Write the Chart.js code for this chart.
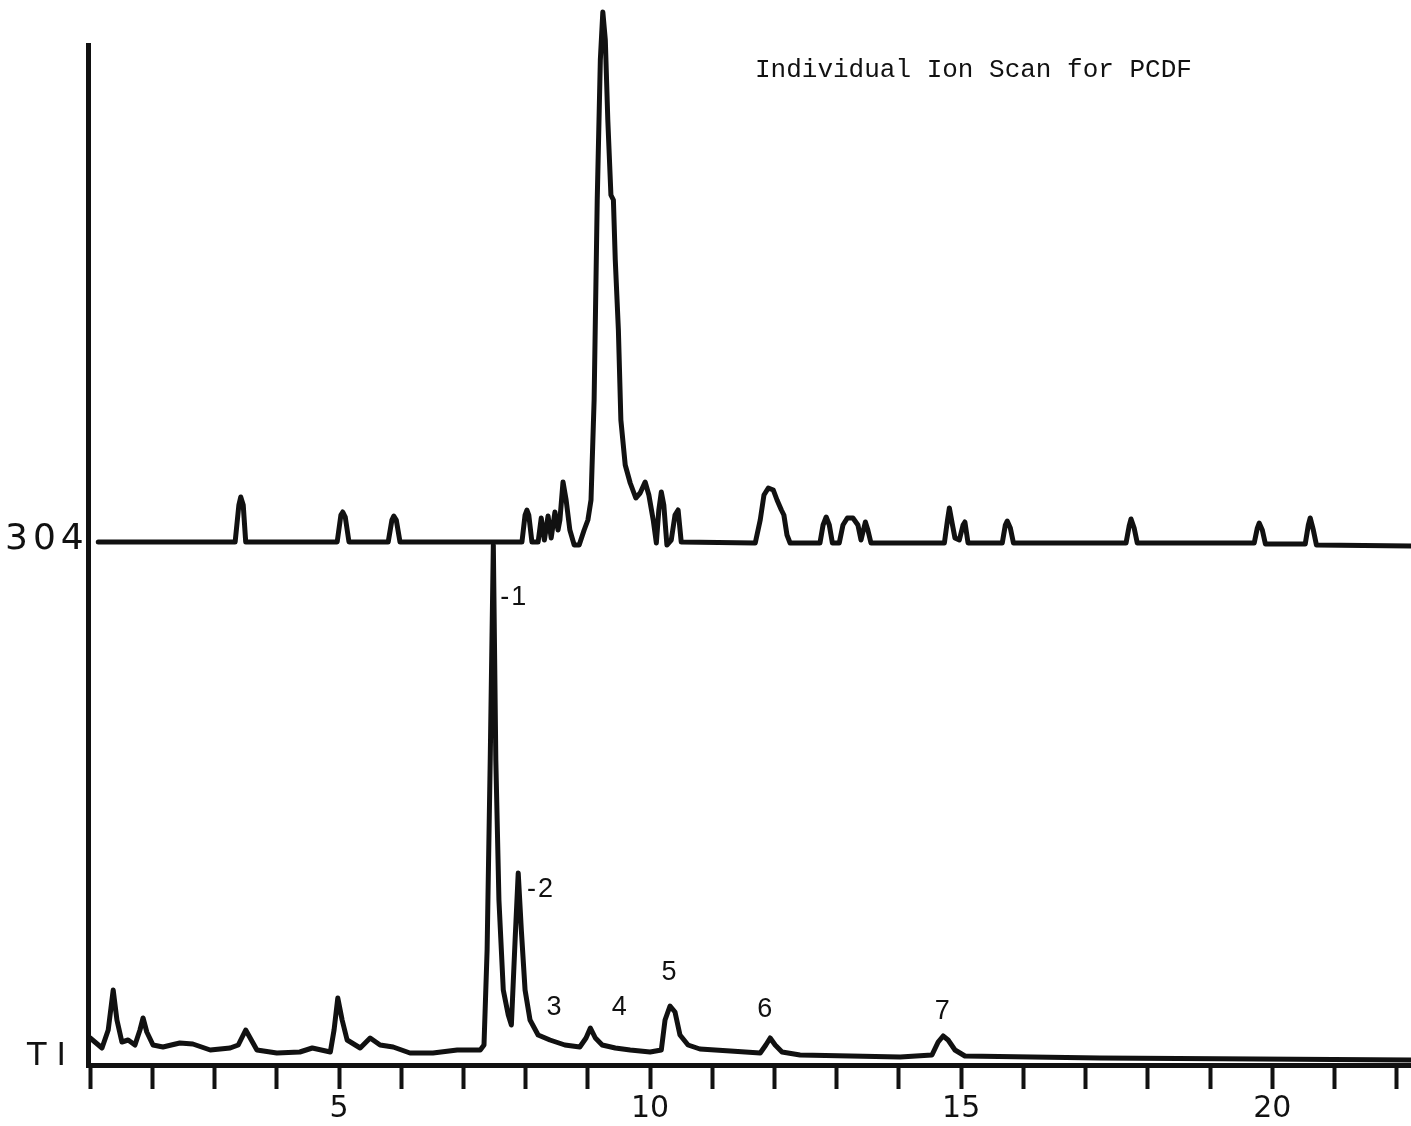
<!DOCTYPE html>
<html lang="en">
<head>
  <meta charset="UTF-8" />
  <title>Individual Ion Scan for PCDF</title>
  <script src="https://cdn.jsdelivr.net/npm/chart.js@4.4.1/dist/chart.umd.min.js"></script>
  <style>
    body { margin: 0; background: #fff; }
    #wrap { width: 1411px; height: 1126px; position: relative; }
  </style>
</head>
<body>
  <div id="wrap"><canvas id="chrom"></canvas></div>

  <script>
    // retention time (min) and signal (chart units above the time axis)
    const ion304Time = [
      1.13, 3.28, 3.33, 3.39, 3.42, 3.46, 3.50,
      4.97, 5.03, 5.06, 5.10, 5.16,
      5.79, 5.85, 5.88, 5.92, 5.98,
      7.94, 7.99, 8.02, 8.05, 8.10,
      8.20, 8.25, 8.30, 8.36, 8.41, 8.47, 8.52,
      8.55, 8.60, 8.65, 8.71, 8.78, 8.86, 8.94, 9.00, 9.05, 9.10, 9.15, 9.20, 9.24,
      9.28, 9.32, 9.37, 9.41, 9.44, 9.49, 9.53, 9.60, 9.68, 9.77, 9.84, 9.92, 9.98,
      10.05, 10.10, 10.14, 10.18, 10.22, 10.27, 10.34, 10.40, 10.45, 10.50,
      11.69, 11.77, 11.83, 11.90, 11.98, 12.04, 12.11, 12.15, 12.20, 12.25,
      12.73, 12.78, 12.83, 12.88, 12.93,
      13.04, 13.10, 13.17, 13.26, 13.34, 13.39, 13.46, 13.50, 13.55,
      14.73, 14.78, 14.81, 14.86, 14.90, 14.97, 15.03, 15.06, 15.11,
      15.66, 15.71, 15.74, 15.79, 15.84,
      17.65, 17.70, 17.73, 17.78, 17.83,
      19.71, 19.76, 19.79, 19.84, 19.89,
      20.53, 20.58, 20.61, 20.66, 20.71,
      22.23
    ];
    const ion304Signal = [
      523, 523, 523, 560, 568, 560, 523,
      523, 550, 553, 548, 523,
      523, 545, 549, 545, 523,
      523, 550, 555, 550, 523,
      523, 547, 525, 549, 527, 553, 535,
      545, 583, 565, 535, 520, 520, 535, 545, 565, 665, 865, 1005, 1053,
      1025, 945, 870, 865, 805, 735, 645, 600, 582, 567, 572, 583, 570,
      545, 522, 555, 573, 560, 520, 525, 550, 555, 523,
      522, 545, 570, 577, 575, 565, 555, 550, 530, 522,
      522, 540, 548, 540, 522,
      522, 540, 547, 547, 540, 525, 543, 535, 522,
      522, 545, 557, 540, 527, 525, 540, 543, 522,
      522, 540, 544, 537, 522,
      522, 539, 546, 537, 522,
      522, 537, 542, 535, 521,
      521, 540, 547, 535, 520,
      519
    ];

    const totalIonTime = [
      1.00, 1.19, 1.29, 1.37, 1.43, 1.51, 1.61, 1.72, 1.80, 1.85, 1.91, 2.01, 2.17,
      2.44, 2.65, 2.93, 3.25, 3.38, 3.50, 3.59, 3.68, 4.00, 4.37, 4.57, 4.86,
      4.92, 4.98, 5.05, 5.13, 5.34, 5.50, 5.66, 5.87, 6.14, 6.51, 6.90, 7.27,
      7.33, 7.38, 7.43, 7.48, 7.52, 7.57, 7.64, 7.72, 7.77, 7.83, 7.88, 7.93, 7.99,
      8.07, 8.20, 8.39, 8.63, 8.87, 8.97, 9.04, 9.12, 9.23, 9.44, 9.68, 10.00,
      10.18, 10.24, 10.32, 10.40, 10.48, 10.61, 10.80, 11.29, 11.77, 11.86, 11.93,
      12.01, 12.12, 12.41, 13.22, 14.02, 14.53, 14.63, 14.71, 14.79, 14.90, 15.06,
      17.23, 22.23
    ];
    const totalIonSignal = [
      27, 17, 35, 75, 45, 23, 25, 20, 35, 47, 33, 20, 18,
      22, 21, 15, 17, 20, 35, 25, 15, 12, 13, 17, 13,
      35, 67, 45, 25, 17, 27, 20, 18, 12, 12, 15, 15,
      20, 115, 305, 520, 305, 165, 75, 50, 40, 125, 192, 135, 75,
      45, 30, 25, 20, 18, 27, 37, 27, 20, 17, 15, 13,
      15, 45, 59, 53, 30, 20, 16, 14, 12, 20, 27,
      20, 13, 10, 9, 8, 10, 23, 29, 25, 15, 9,
      7, 5
    ];

    const tickMinutes = [1, 2, 3, 4, 5, 6, 7, 8, 9, 10, 11, 12, 13, 14, 15, 16, 17, 18, 19, 20, 21, 22];
    const labelledMinutes = [5, 10, 15, 20];

    const peakNotes = [
      { text: '-1', x: 7.59, y: 467, align: 'left' },
      { text: '-2', x: 8.02, y: 175, align: 'left' },
      { text: '3', x: 8.47, y: 57, align: 'center' },
      { text: '4', x: 9.52, y: 57, align: 'center' },
      { text: '5', x: 10.32, y: 92, align: 'center' },
      { text: '6', x: 11.86, y: 55, align: 'center' },
      { text: '7', x: 14.71, y: 53, align: 'center' }
    ];

    function toPoints(times, values) {
      return times.map((t, i) => ({ x: t, y: values[i] }));
    }

    const textLayer = {
      id: 'textLayer',
      afterDatasetsDraw(chart) {
        const { ctx, scales: { x, y } } = chart;
        ctx.save();
        ctx.fillStyle = '#111';
        ctx.textBaseline = 'middle';

        ctx.font = '27px "Liberation Sans"';
        ctx.letterSpacing = '2px';
        peakNotes.forEach(n => {
          ctx.textAlign = n.align;
          ctx.fillText(n.text, x.getPixelForValue(n.x), y.getPixelForValue(n.y));
        });

        ctx.letterSpacing = '0px';
        ctx.textAlign = 'left';
        ctx.font = '26px "Liberation Mono"';
        ctx.fillText('Individual Ion Scan for PCDF', 755, 70);

        ctx.font = '36px "DejaVu Sans"';
        ctx.letterSpacing = '5px';
        ctx.fillText('304', 5, y.getPixelForValue(525));
        ctx.letterSpacing = '10px';
        ctx.font = '32px "DejaVu Sans"';
        ctx.fillText('TI', 27, y.getPixelForValue(8));
        ctx.restore();
      }
    };

    const lineStyle = {
      borderColor: '#111',
      borderWidth: 5,
      borderJoinStyle: 'round',
      borderCapStyle: 'round',
      pointRadius: 0,
      tension: 0,
      clip: false
    };

    new Chart(document.getElementById('chrom'), {
      type: 'line',
      data: {
        datasets: [
          { label: '304', data: toPoints(ion304Time, ion304Signal), ...lineStyle },
          { label: 'TI', data: toPoints(totalIonTime, totalIonSignal), ...lineStyle }
        ]
      },
      options: {
        responsive: true,
        maintainAspectRatio: false,
        animation: false,
        layout: { padding: { top: 45, right: 0, left: 0, bottom: 0 } },
        plugins: { legend: { display: false }, tooltip: { enabled: false } },
        scales: {
          x: {
            type: 'linear',
            min: 0.965,
            max: 22.23,
            afterBuildTicks: s => { s.ticks = tickMinutes.map(v => ({ value: v })); },
            afterFit: s => { s.height = 61; },
            border: { display: true, color: '#111', width: 5 },
            grid: { drawOnChartArea: false, drawTicks: true, tickLength: 24, tickWidth: 4, tickColor: '#111' },
            ticks: {
              autoSkip: false,
              maxRotation: 0,
              padding: 2,
              color: '#111',
              font: { family: 'DejaVu Sans', size: 30 },
              callback: v => labelledMinutes.includes(v) ? String(v) : ''
            }
          },
          y: {
            min: 0,
            max: 1020,
            afterFit: s => { s.width = 88; },
            border: { display: true, color: '#111', width: 5 },
            grid: { display: false },
            ticks: { display: false }
          }
        }
      },
      plugins: [textLayer]
    });
  </script>
</body>
</html>
